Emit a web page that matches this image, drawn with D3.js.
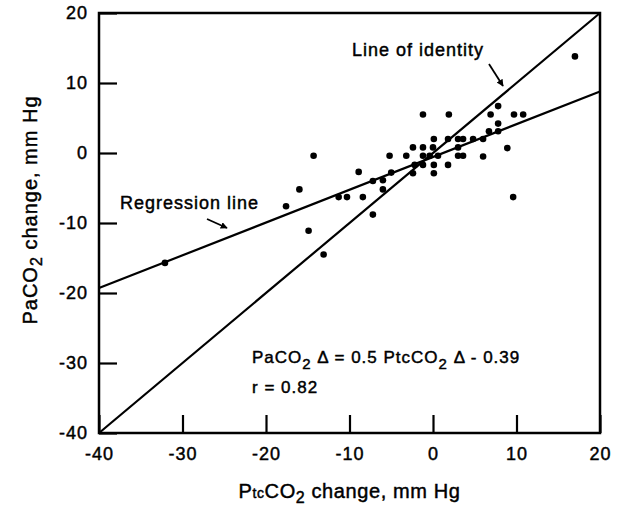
<!DOCTYPE html>
<html>
<head>
<meta charset="utf-8">
<script src="https://cdn.jsdelivr.net/npm/d3@7"></script>
<style>
  body { margin: 0; background: #fff; }
  svg text { font-family: "Liberation Sans", Arial, Helvetica, sans-serif; fill: #000; stroke: #000; stroke-width: 0.45px; }
</style>
</head>
<body>
<div id="chart"></div>
<script>
const width = 625,
  height = 512;

// PtcCO2 change (x) and PaCO2 change (y), mm Hg
const ptcChange = [17.0, -32.1, -1.2, 1.9, 7.8, 6.9, 9.7, 10.8, 7.8, 6.7, 7.8, 8.9, 9.6,
  0.1, 1.8, 3.0, 3.6, 4.8, 6.0, -2.4, -1.2, 0.0, 3.0, -5.2, -3.2, -1.2, -0.4, 0.6, 3.0, 3.6, 6.0,
  -14.3, -2.2, -1.2, 0.1, 1.8, 0.1, -2.4, -8.9, -7.2, -6.0, -5.0, -6.0, -11.3, -10.3, -8.4, -7.2,
  -16.0, -17.6, -14.9, -13.1];
const paChange = [13.8, -15.7, 5.5, 5.5, 6.7, 5.5, 5.5, 5.5, 4.2, 3.1, 3.1, 0.7, -6.3,
  2.0, 2.0, 2.0, 2.0, 2.0, 2.0, 0.8, 0.8, 0.8, 0.8, -0.4, -0.4, -0.4, -0.4, -0.4, -0.4, -0.4, -0.5,
  -0.4, -1.7, -1.7, -1.7, -1.7, -2.9, -2.9, -2.7, -4.0, -3.9, -2.8, -5.2, -6.3, -6.3, -6.3, -8.8,
  -5.2, -7.6, -11.1, -14.5];

const xTicks = [-40, -30, -20, -10, 0, 10, 20];
const yTicks = [-40, -30, -20, -10, 0, 10, 20];

// line end points as drawn
const identityLine = [[-40, -40], [20, 20]];
const regressionLine = [[-40, -19.3], [20, 8.8]];

const margin = {top: 13, right: 25, bottom: 79, left: 99};

const x = d3.scaleLinear().domain([-40, 20]).range([margin.left, width - margin.right]);
const y = d3.scaleLinear().domain([-40, 20]).range([height - margin.bottom, margin.top]);

const svg = d3.select("#chart")
  .append("svg")
  .attr("width", width)
  .attr("height", height);

svg.append("defs").append("marker")
  .attr("id", "arrow")
  .attr("viewBox", "0 0 10 10")
  .attr("refX", 9).attr("refY", 5)
  .attr("markerWidth", 7).attr("markerHeight", 7)
  .attr("markerUnits", "userSpaceOnUse")
  .attr("orient", "auto")
  .append("path")
  .attr("d", "M0,0L10,5L0,10z")
  .attr("fill", "#000");

// axes with inward ticks, plain hyphen for minus
svg.append("g")
  .attr("transform", `translate(0,${y(-40)})`)
  .call(d3.axisBottom(x).tickValues(xTicks).tickSize(-18).tickPadding(14).tickFormat(d => String(d)))
  .call(g => g.select(".domain").remove())
  .call(g => g.selectAll("line").attr("stroke", "#000").attr("stroke-width", 2.2))
  .call(g => g.selectAll("text").attr("font-size", 18).attr("letter-spacing", 1).attr("font-family", null));

svg.append("g")
  .attr("transform", `translate(${x(-40)},0)`)
  .call(d3.axisLeft(y).tickValues(yTicks).tickSize(-18).tickPadding(11).tickFormat(d => String(d)))
  .call(g => g.select(".domain").remove())
  .call(g => g.selectAll("line").attr("stroke", "#000").attr("stroke-width", 2.2))
  .call(g => g.selectAll("text").attr("font-size", 18).attr("letter-spacing", 1).attr("font-family", null));

// frame
svg.append("rect")
  .attr("x", x(-40)).attr("y", y(20))
  .attr("width", x(20) - x(-40)).attr("height", y(-40) - y(20))
  .attr("fill", "none").attr("stroke", "#000").attr("stroke-width", 2.5);

const line = d3.line().x(d => x(d[0])).y(d => y(d[1]));

svg.append("path").datum(identityLine)
  .attr("d", line).attr("fill", "none").attr("stroke", "#000").attr("stroke-width", 2.2);
svg.append("path").datum(regressionLine)
  .attr("d", line).attr("fill", "none").attr("stroke", "#000").attr("stroke-width", 2.2);

svg.append("g")
  .selectAll("circle")
  .data(ptcChange.map((d, i) => [d, paChange[i]]))
  .join("circle")
  .attr("cx", d => x(d[0]))
  .attr("cy", d => y(d[1]))
  .attr("r", 3.3)
  .attr("fill", "#000");

// annotations
svg.append("text").attr("x", 352).attr("y", 56).attr("font-size", 18).attr("letter-spacing", 1)
  .text("Line of identity");
svg.append("line").attr("x1", 489).attr("y1", 64).attr("x2", 503).attr("y2", 86)
  .attr("stroke", "#000").attr("stroke-width", 1.8).attr("marker-end", "url(#arrow)");

svg.append("text").attr("x", 120).attr("y", 209).attr("font-size", 18).attr("letter-spacing", 1)
  .text("Regression line");
svg.append("line").attr("x1", 207).attr("y1", 219).attr("x2", 227).attr("y2", 228)
  .attr("stroke", "#000").attr("stroke-width", 1.8).attr("marker-end", "url(#arrow)");

const eq = svg.append("text").attr("x", 252).attr("y", 363).attr("font-size", 17).attr("letter-spacing", 1);
eq.append("tspan").text("PaCO");
eq.append("tspan").attr("dy", 6).attr("font-size", 15).text("2");
eq.append("tspan").attr("dy", -6).text(" \u0394 = 0.5 PtcCO");
eq.append("tspan").attr("dy", 6).attr("font-size", 15).text("2");
eq.append("tspan").attr("dy", -6).text(" \u0394 - 0.39");

svg.append("text").attr("x", 252).attr("y", 393).attr("font-size", 17).attr("letter-spacing", 1).text("r = 0.82");

// axis titles
const xt = svg.append("text")
  .attr("x", (x(-40) + x(20)) / 2).attr("y", 498)
  .attr("text-anchor", "middle").attr("font-size", 20).attr("letter-spacing", 0.6);
xt.append("tspan").text("P");
xt.append("tspan").attr("font-size", 14).text("tc");
xt.append("tspan").text("CO");
xt.append("tspan").attr("dy", 5).attr("font-size", 16).text("2");
xt.append("tspan").attr("dy", -5).text(" change, mm Hg");

const yt = svg.append("text")
  .attr("transform", `translate(37,210) rotate(-90)`)
  .attr("text-anchor", "middle").attr("font-size", 20).attr("letter-spacing", 1);
yt.append("tspan").text("PaCO");
yt.append("tspan").attr("dy", 5).attr("font-size", 16).text("2");
yt.append("tspan").attr("dy", -5).text("  change, mm Hg");
</script>
</body>
</html>
